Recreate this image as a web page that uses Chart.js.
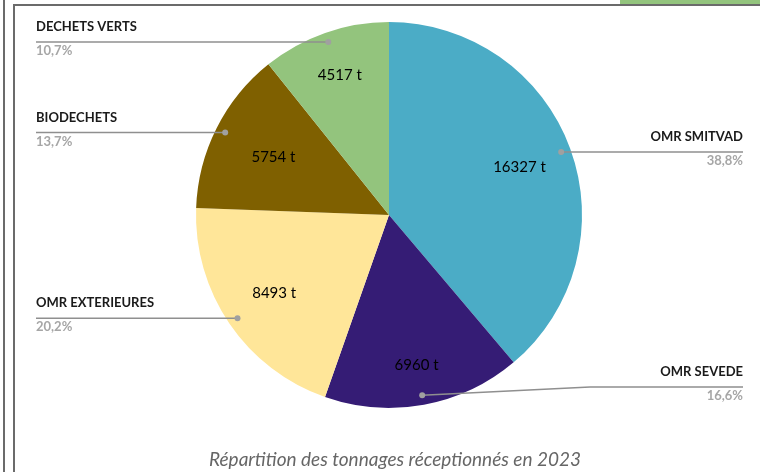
<!DOCTYPE html>
<html>
<head>
<meta charset="utf-8">
<script src="https://cdn.jsdelivr.net/npm/chart.js@4/dist/chart.umd.min.js"></script>
<style>
  body { margin: 0; background: #fff; }
  #wrap { position: relative; width: 760px; height: 472px; overflow: hidden; }
  .ln { position: absolute; background: #6b6b6b; }
</style>
</head>
<body>
<div id="wrap">
  <canvas id="pie" width="760" height="472"></canvas>
  <div class="ln" style="left:3px;top:0;width:2px;height:472px"></div>
  <div class="ln" style="left:13px;top:4px;width:2px;height:468px"></div>
  <div class="ln" style="left:13px;top:4px;width:747px;height:2px"></div>
  <div style="position:absolute;left:620px;top:0;width:140px;height:4px;background:#93c47d"></div>
</div>
<script>
// tonnages 2023
const categories = ['OMR SMITVAD', 'OMR SEVEDE', 'OMR EXTERIEURES', 'BIODECHETS', 'DECHETS VERTS']
const tonnages = [16327, 6960, 8493, 5754, 4517]
const percents = ['38,8%', '16,6%', '20,2%', '13,7%', '10,7%']
const colors = ['#4bacc6', '#351c75', '#ffe699', '#7f6000', '#93c47d']

const FONT = 'Lato, "Open Sans", sans-serif'

// leader lines + outside labels, drawn from the arc elements
const leaderPlugin = {
  id: 'leaders',
  afterDatasetsDraw(chart, args, opts) {
    const ctx = chart.ctx
    const meta = chart.getDatasetMeta(0)
    meta.data.forEach((arc, i) => {
      const p = arc.getProps(['x', 'y', 'startAngle', 'endAngle', 'outerRadius'])
      const mid = (p.startAngle + p.endAngle) / 2

      // value label inside slice
      const rf = opts.valueRadius[i]
      ctx.save()
      ctx.font = '15px ' + FONT
      ctx.fillStyle = '#000'
      ctx.textAlign = 'center'
      ctx.textBaseline = 'middle'
      ctx.fillText(tonnages[i] + ' t', p.x + Math.cos(mid) * p.outerRadius * rf, p.y + Math.sin(mid) * p.outerRadius * rf)
      ctx.restore()

      // dot on slice
      const dx = p.x + Math.cos(mid) * p.outerRadius * 0.95
      const dy = p.y + Math.sin(mid) * p.outerRadius * 0.95
      const right = Math.cos(mid) > 0
      const ly = opts.lineY[i] != null ? opts.lineY[i] : dy
      const endX = right ? opts.rightX : opts.leftX

      ctx.save()
      ctx.strokeStyle = '#8f8f8f'
      ctx.lineWidth = 1.5
      ctx.beginPath()
      ctx.moveTo(dx, dy)
      if (ly !== dy) {
        ctx.lineTo(opts.bendX, ly)
      }
      ctx.lineTo(endX, ly)
      ctx.stroke()
      ctx.fillStyle = '#a0a0a0'
      ctx.beginPath()
      ctx.arc(dx, dy, 3, 0, Math.PI * 2)
      ctx.fill()

      ctx.textAlign = right ? 'right' : 'left'
      ctx.textBaseline = 'middle'
      ctx.font = 'bold 13px ' + FONT
      ctx.fillStyle = '#1a1a1a'
      ctx.fillText(categories[i], endX, ly - 15)
      ctx.fillStyle = '#a6a6a6'
      ctx.fillText(percents[i], endX, ly + 9)
      ctx.restore()
    })
  }
}

const titlePlugin = {
  id: 'bottomTitle',
  afterDraw(chart) {
    const ctx = chart.ctx
    ctx.save()
    ctx.font = 'italic 19px ' + FONT
    ctx.fillStyle = '#666666'
    ctx.textAlign = 'center'
    ctx.textBaseline = 'middle'
    ctx.fillText('Répartition des tonnages réceptionnés en 2023', 395, 460)
    ctx.restore()
  }
}

new Chart(document.getElementById('pie'), {
  type: 'pie',
  data: {
    labels: categories,
    datasets: [{
      data: tonnages,
      backgroundColor: colors,
      borderWidth: 0
    }]
  },
  options: {
    responsive: false,
    animation: false,
    layout: { padding: { left: 196, right: 178, top: 22, bottom: 64 } },
    plugins: {
      legend: { display: false },
      tooltip: { enabled: false },
      leaders: {
        valueRadius: [0.72, 0.79, 0.72, 0.67, 0.77],
        lineY: [null, 387, null, null, null],
        bendX: 590,
        leftX: 36,
        rightX: 743
      }
    }
  },
  plugins: [leaderPlugin, titlePlugin]
})
</script>
</body>
</html>
